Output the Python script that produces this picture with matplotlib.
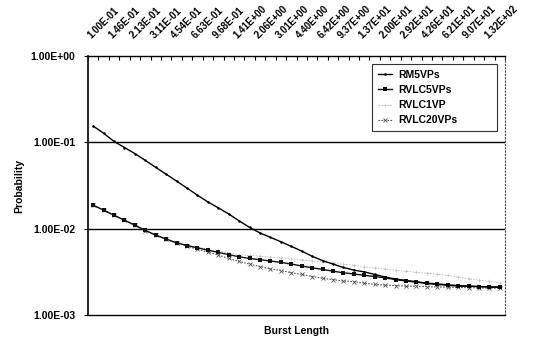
import matplotlib
matplotlib.use("Agg")
import matplotlib.pyplot as plt
import matplotlib.transforms as mtransforms
import numpy as np
from matplotlib.ticker import FixedLocator, NullFormatter

plt.rcParams['font.family'] = ['Liberation Sans', 'DejaVu Sans']

tick_labels = ["1.00E-01", "1.46E-01", "2.13E-01", "3.11E-01", "4.54E-01", "6.63E-01",
               "9.68E-01", "1.41E+00", "2.06E+00", "3.01E+00", "4.40E+00", "6.42E+00",
               "9.37E+00", "1.37E+01", "2.00E+01", "2.92E+01", "4.26E+01", "6.21E+01",
               "9.07E+01", "1.32E+02"]
n_categories = 40

rm5vps = [0.1542, 0.1274, 0.1023, 0.0871, 0.0740, 0.0617, 0.0513, 0.0427, 0.0355, 0.0295,
          0.0244, 0.0204, 0.0174, 0.0148, 0.0123, 0.01035, 0.00891, 0.00794, 0.00705, 0.00624,
          0.00550, 0.00479, 0.00427, 0.00389, 0.00355, 0.00331, 0.00316, 0.00295, 0.00275, 0.00261,
          0.00251, 0.00243, 0.00234, 0.00229, 0.00224, 0.00219, 0.00216, 0.00214, 0.00211, 0.00209]
rvlc5vps = [0.0187, 0.01637, 0.01429, 0.01253, 0.01096, 0.00955, 0.00841, 0.00759, 0.00685, 0.00638,
            0.00600, 0.00564, 0.00531, 0.00501, 0.00472, 0.00452, 0.00437, 0.00422, 0.00407, 0.00389,
            0.00370, 0.00352, 0.00337, 0.00322, 0.00308, 0.00299, 0.00288, 0.00279, 0.00269, 0.00257,
            0.00248, 0.00240, 0.00232, 0.00226, 0.00221, 0.00216, 0.00215, 0.00213, 0.00212, 0.00211]
rvlc1vp = [0.0187, 0.01637, 0.01429, 0.01253, 0.01096, 0.00955, 0.00841, 0.00759, 0.00685, 0.00640,
           0.00610, 0.00575, 0.00550, 0.00525, 0.00501, 0.00490, 0.00479, 0.00468, 0.00457, 0.00447,
           0.00437, 0.00425, 0.00413, 0.00403, 0.00389, 0.00376, 0.00363, 0.00351, 0.00339, 0.00330,
           0.00321, 0.00313, 0.00305, 0.00297, 0.00288, 0.00275, 0.00263, 0.00254, 0.00245, 0.00237]
rvlc20vps = [0.0187, 0.0164, 0.0143, 0.0125, 0.0110, 0.0095, 0.0084, 0.0075, 0.0068, 0.0063,
             0.00575, 0.00537, 0.00495, 0.00452, 0.00417, 0.00389, 0.00363, 0.00343, 0.00327, 0.00309,
             0.00295, 0.00279, 0.00266, 0.00257, 0.00248, 0.00243, 0.00234, 0.00226, 0.00222, 0.00219,
             0.00216, 0.00215, 0.00213, 0.00211, 0.00210, 0.00209, 0.00207, 0.00206, 0.00205, 0.00204]

x = np.arange(n_categories)

fig = plt.figure(figsize=(5.43, 3.40), dpi=100)
ax = fig.add_axes([88/543, 1-315/340, 417/543, 259/340])

ax.plot(x, rvlc1vp, color='#bdbdbd', lw=0.7, ls=(0, (1.5, 1.5)), marker='+', ms=2.2, mew=0.4,
        label='RVLC1VP', zorder=2)
ax.plot(x, rvlc20vps, color='#555555', lw=0.8, ls=(0, (1.5, 1.2)), marker='x', ms=2.2, mew=0.6,
        label='RVLC20VPs', zorder=3)
ax.plot(x, rvlc5vps, color='#111111', lw=1.0, ls='-', marker='s', ms=2.8, mew=0,
        label='RVLC5VPs', zorder=4)
ax.plot(x, rm5vps, color='#000000', lw=1.0, ls='-', marker='o', ms=1.8, mew=0,
        label='RM5VPs', zorder=5)

ax.set_yscale('log')
ax.set_ylim(1e-3, 1e0)
ax.set_xlim(-0.5, n_categories - 0.5)

ax.yaxis.set_major_locator(FixedLocator([1e-3, 1e-2, 1e-1, 1e0]))
ax.yaxis.set_minor_locator(FixedLocator([]))
ax.yaxis.set_minor_formatter(NullFormatter())
ax.set_yticklabels(["1.00E-03", "1.00E-02", "1.00E-01", "1.00E+00"],
                   fontsize=7.5, fontweight='bold')
ax.tick_params(axis='y', direction='out', length=3, width=0.8, pad=6)

for yv in [1e-1, 1e-2]:
    ax.axhline(yv, color='black', lw=1.0, zorder=1)

# x axis on top
ax.xaxis.tick_top()
ax.set_xticks(x[::2])
ax.set_xticklabels(tick_labels, rotation=45, ha='left', va='bottom',
                   rotation_mode='anchor', fontsize=7.0, fontweight='bold')
offset = mtransforms.ScaledTranslation(3/100, 0, fig.dpi_scale_trans)
for lbl in ax.get_xticklabels():
    lbl.set_transform(lbl.get_transform() + offset)
ax.set_xticks(np.arange(-0.5, n_categories, 1), minor=True)
ax.tick_params(axis='x', which='major', length=0, pad=11)
ax.tick_params(axis='x', which='minor', direction='in', length=3, width=0.8, top=True, bottom=False)

ax.spines['top'].set_linewidth(1.0)
ax.spines['left'].set_linewidth(1.2)
ax.spines['bottom'].set_linestyle((0, (1, 1)))
ax.spines['bottom'].set_linewidth(1.0)
ax.spines['right'].set_linestyle((0, (1, 2)))
ax.spines['right'].set_linewidth(0.8)
ax.spines['right'].set_color('#444444')

ax.set_ylabel('Probability', fontsize=7.5, fontweight='bold', labelpad=5)
ax.set_xlabel('Burst Length', fontsize=7.5, fontweight='bold')
ax.xaxis.set_label_position('bottom')
ax.xaxis.labelpad = 8

handles, labels = ax.get_legend_handles_labels()
order = [labels.index(l) for l in ['RM5VPs', 'RVLC5VPs', 'RVLC1VP', 'RVLC20VPs']]
leg = ax.legend([handles[i] for i in order], [labels[i] for i in order],
                loc='upper left', bbox_to_anchor=(0.681, 0.722, 0.300, 0.247), mode='expand',
                fontsize=7.5, frameon=True, fancybox=False, edgecolor='black', handlelength=1.4,
                handletextpad=0.6, labelspacing=0.5, borderpad=0.55, borderaxespad=0)
leg.get_frame().set_linewidth(0.8)
for t in leg.get_texts():
    t.set_fontweight('bold')

fig.savefig('out.png', dpi=100)
